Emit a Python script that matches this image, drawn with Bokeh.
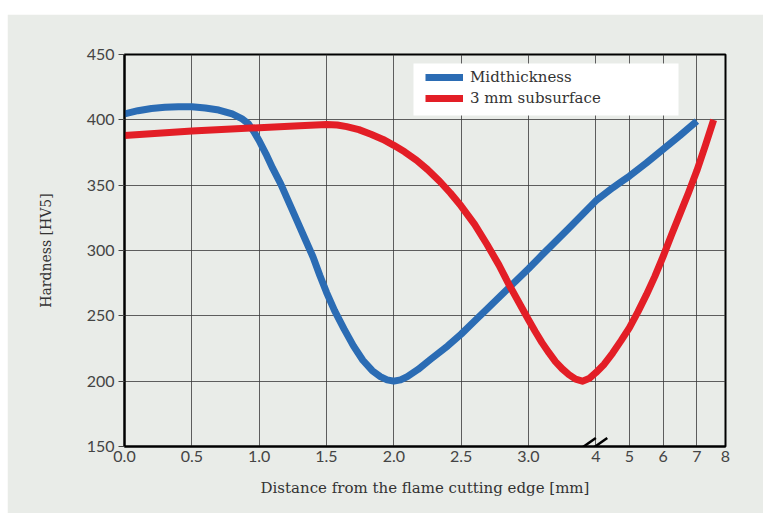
import numpy as np
from bokeh.plotting import figure
from bokeh.layouts import row, column
from bokeh.models import (FixedTicker, Range1d, Legend, LegendItem, BoxAnnotation, Arrow, Spacer)
from bokeh.embed import file_html
from bokeh.resources import INLINE

# ---- data (x in mm, hardness in HV5) ----
mid_x = [0.0, 0.1, 0.2, 0.3, 0.4, 0.5, 0.6, 0.7, 0.8, 0.87, 0.92, 0.96, 1.0, 1.05, 1.1,
         1.16, 1.22, 1.28, 1.34, 1.40, 1.45, 1.50, 1.56, 1.63, 1.70, 1.77, 1.84, 1.90,
         1.95, 2.0, 2.05, 2.1, 2.18, 2.27, 2.4, 2.5, 2.6, 2.7, 2.86, 3.0, 3.2, 3.6, 4.0,
         4.25, 4.5, 4.75, 5.0, 5.5, 6.0, 6.5, 7.0]
mid_y = [404.5, 407, 408.7, 409.6, 410, 410, 409, 407.5, 404.5, 401, 397, 391, 384, 374, 363,
         351, 337, 323, 309, 295, 281, 268, 254, 240, 227, 216, 208, 203.5,
         201, 200, 201, 203.5, 209, 216.5, 227, 236, 246, 256, 272, 286, 296.5, 317, 338,
         343, 348, 352.5, 357, 367, 377.5, 388, 399]

sub_x = [0.0, 0.5, 1.0, 1.3, 1.5, 1.58, 1.65, 1.74, 1.83, 1.92, 2.0, 2.08, 2.17, 2.25, 2.34,
         2.42, 2.5, 2.6, 2.69, 2.78, 2.86, 2.93, 3.0, 3.1, 3.2, 3.3, 3.4, 3.5, 3.6, 3.7,
         3.8, 3.9, 4.0, 4.25, 4.5, 4.75, 5.0, 5.25, 5.5, 5.75, 6.0, 6.25, 6.5, 6.75, 7.0,
         7.25, 7.5]
sub_y = [388, 391.5, 394, 395.5, 396.5, 396, 394.8, 392.5, 389, 385, 380.5, 375.5, 369, 362, 353,
         344, 334, 320, 305, 289, 273, 260, 247, 238, 229.5, 222, 215, 209.5, 205, 201.5,
         200, 202, 206.5, 213, 221.5, 231, 241, 253, 266, 280, 295.5, 312, 328, 344, 361,
         380, 400]

x_ticks_mm = [0, 0.5, 1, 1.5, 2, 2.5, 3, 4, 5, 6, 7, 8]
x_tick_labels = ["0.0", "0.5", "1.0", "1.5", "2.0", "2.5", "3.0", "4", "5", "6", "7", "8"]
y_ticks = [150, 200, 250, 300, 350, 400, 450]

# broken axis: mm -> axis position
mm_bp = [0, 3, 4, 7.5, 8]
ax_bp = [0, 3, 3.5, 4.375, 4.463]
def to_axis(v):
    return np.interp(np.asarray(v, dtype=float), mm_bp, ax_bp)

BLUE = "#2b6cb4"
RED = "#e31e26"
BG = "#e9ece8"

p = figure(width=756, height=499, output_backend="svg", toolbar_location=None,
           x_range=Range1d(0, ax_bp[-1]), y_range=Range1d(150, 450),
           min_border_left=117, min_border_right=38, min_border_top=40, min_border_bottom=67,
           background_fill_color=BG, border_fill_color=BG)

# legend white box (drawn before curves/legend)
box = BoxAnnotation(left=2.146, right=4.114, top=443.1, bottom=403.3,
                    fill_color="white", fill_alpha=1.0, line_alpha=0, level="underlay")
p.add_layout(box)

xt = [float(v) for v in to_axis(x_ticks_mm)]
p.xaxis.ticker = FixedTicker(ticks=xt)
p.xaxis.major_label_overrides = {t: l for t, l in zip(xt, x_tick_labels)}
p.yaxis.ticker = FixedTicker(ticks=y_ticks)

r1 = p.line(to_axis(mid_x), mid_y, line_color=BLUE, line_width=7, line_join="round")
r2 = p.line(to_axis(sub_x), sub_y, line_color=RED, line_width=7, line_join="round")

legend = Legend(items=[LegendItem(label="Midthickness", renderers=[r1]),
                       LegendItem(label="3 mm subsurface", renderers=[r2])],
                location=(301, 339), padding=0, margin=0, spacing=3,
                glyph_width=38, glyph_height=18, label_height=18, label_standoff=7,
                label_text_font="DejaVu Serif", label_text_font_size="15px",
                label_text_color="#333333",
                background_fill_alpha=0, border_line_alpha=0)
p.add_layout(legend)

# axis break marks
brk_x0 = [3.355, 3.44]
for x0 in brk_x0:
    p.add_layout(Arrow(end=None, x_start=x0, y_start=146.0, x_end=x0 + 0.145, y_end=156.5,
                       line_width=2.5, line_color="black"))

p.grid.grid_line_color = "#3a3a3a"
p.grid.grid_line_alpha = 0.8
p.grid.grid_line_width = 1
p.outline_line_color = "black"
p.outline_line_width = 2
p.outline_line_alpha = 1

for ax in (p.xaxis, p.yaxis):
    ax.axis_line_color = "black"
    ax.axis_line_width = 2
    ax.major_label_text_font = "Lato"
    ax.major_label_text_font_size = "16px"
    ax.major_label_text_color = "#444444"
    ax.minor_tick_line_color = None
    ax.axis_label_text_font = "DejaVu Serif"
    ax.axis_label_text_font_style = "normal"
    ax.axis_label_text_color = "#333333"

p.xaxis.major_tick_out = 0
p.xaxis.major_tick_in = 0
p.xaxis.major_label_standoff = 4
p.xaxis.axis_label = "Distance from the flame cutting edge [mm]"
p.xaxis.axis_label_text_font_size = "15px"
p.xaxis.axis_label_standoff = 14

p.yaxis.major_tick_out = 6
p.yaxis.major_tick_in = 0
p.yaxis.major_tick_line_color = "#444444"
p.yaxis.major_label_standoff = 4
p.yaxis.axis_label = "Hardness [HV5]"
p.yaxis.axis_label_text_font_size = "14px"
p.yaxis.axis_label_standoff = 30

layout = row(Spacer(width=7), column(Spacer(height=14), p))

open("out.html", "w").write(file_html(layout, INLINE))
